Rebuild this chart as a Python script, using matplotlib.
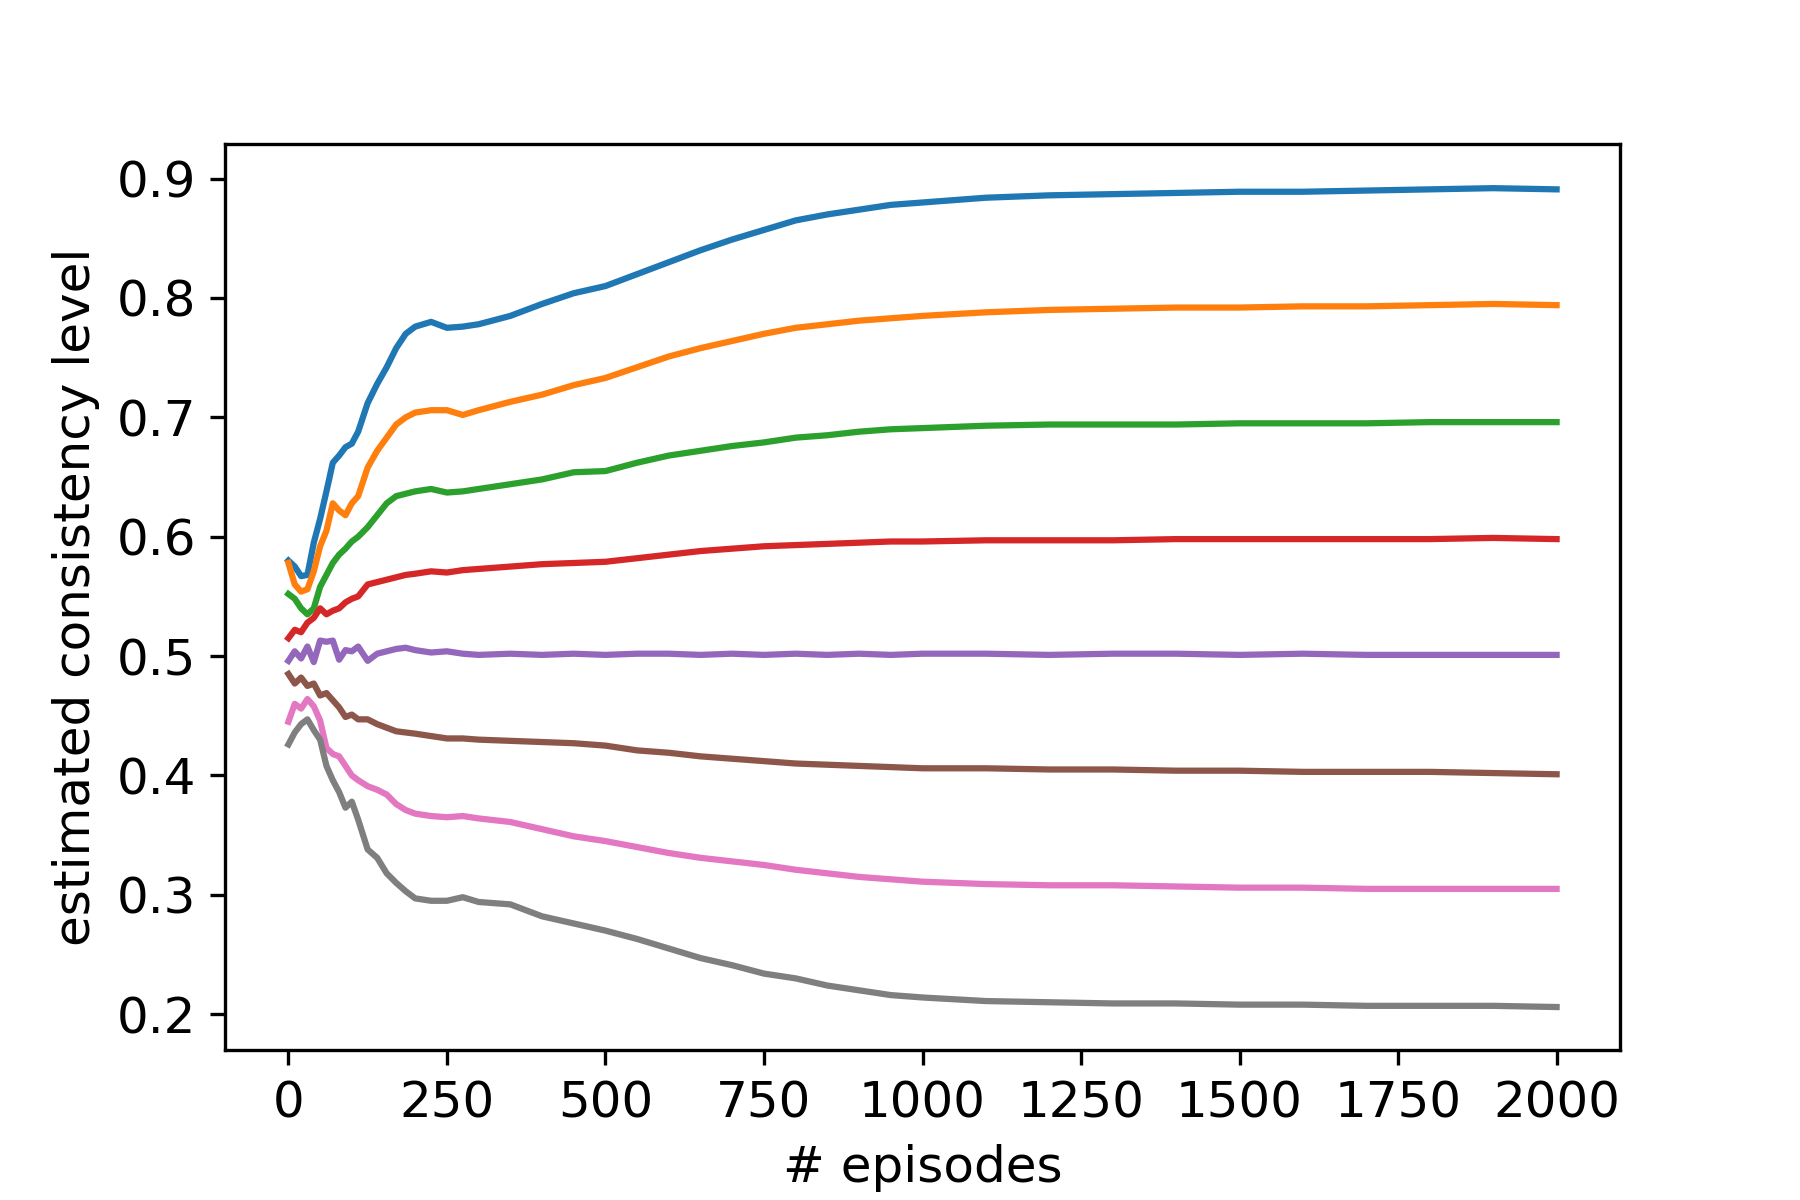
import matplotlib
matplotlib.use("Agg")
import matplotlib.pyplot as plt

plt.rcParams['font.size'] = 12

episodes = [0, 10, 20, 30, 40, 50, 60, 70, 80, 90, 100, 110, 125, 140, 155, 170, 185, 200,
            225, 250, 275, 300, 350, 400, 450, 500, 550, 600, 650, 700, 750, 800, 850, 900,
            950, 1000, 1100, 1200, 1300, 1400, 1500, 1600, 1700, 1800, 1900, 2000]

blue = [0.580, 0.575, 0.567, 0.568, 0.595, 0.615, 0.638, 0.662, 0.668, 0.675, 0.678, 0.688,
        0.712, 0.728, 0.742, 0.758, 0.770, 0.776, 0.780, 0.775, 0.776, 0.778, 0.785, 0.795,
        0.804, 0.810, 0.820, 0.830, 0.840, 0.849, 0.857, 0.865, 0.870, 0.874, 0.878, 0.880,
        0.884, 0.886, 0.887, 0.888, 0.889, 0.889, 0.890, 0.891, 0.892, 0.891]

orange = [0.578, 0.560, 0.554, 0.556, 0.571, 0.592, 0.605, 0.628, 0.622, 0.618, 0.628, 0.634,
          0.658, 0.672, 0.683, 0.694, 0.700, 0.704, 0.706, 0.706, 0.702, 0.706, 0.713, 0.719,
          0.727, 0.733, 0.742, 0.751, 0.758, 0.764, 0.770, 0.775, 0.778, 0.781, 0.783, 0.785,
          0.788, 0.790, 0.791, 0.792, 0.792, 0.793, 0.793, 0.794, 0.795, 0.794]

green = [0.552, 0.548, 0.540, 0.535, 0.540, 0.558, 0.568, 0.578, 0.585, 0.590, 0.596, 0.600,
         0.608, 0.618, 0.628, 0.634, 0.636, 0.638, 0.640, 0.637, 0.638, 0.640, 0.644, 0.648,
         0.654, 0.655, 0.662, 0.668, 0.672, 0.676, 0.679, 0.683, 0.685, 0.688, 0.690, 0.691,
         0.693, 0.694, 0.694, 0.694, 0.695, 0.695, 0.695, 0.696, 0.696, 0.696]

red = [0.515, 0.522, 0.520, 0.528, 0.532, 0.540, 0.535, 0.538, 0.540, 0.545, 0.548, 0.550,
       0.560, 0.562, 0.564, 0.566, 0.568, 0.569, 0.571, 0.570, 0.572, 0.573, 0.575, 0.577,
       0.578, 0.579, 0.582, 0.585, 0.588, 0.590, 0.592, 0.593, 0.594, 0.595, 0.596, 0.596,
       0.597, 0.597, 0.597, 0.598, 0.598, 0.598, 0.598, 0.598, 0.599, 0.598]

purple = [0.496, 0.504, 0.498, 0.508, 0.495, 0.513, 0.512, 0.513, 0.497, 0.505, 0.504, 0.508,
          0.496, 0.502, 0.504, 0.506, 0.507, 0.505, 0.503, 0.504, 0.502, 0.501, 0.502, 0.501,
          0.502, 0.501, 0.502, 0.502, 0.501, 0.502, 0.501, 0.502, 0.501, 0.502, 0.501, 0.502,
          0.502, 0.501, 0.502, 0.502, 0.501, 0.502, 0.501, 0.501, 0.501, 0.501]

brown = [0.485, 0.477, 0.482, 0.475, 0.477, 0.467, 0.469, 0.463, 0.457, 0.449, 0.451, 0.447,
         0.447, 0.443, 0.440, 0.437, 0.436, 0.435, 0.433, 0.431, 0.431, 0.430, 0.429, 0.428,
         0.427, 0.425, 0.421, 0.419, 0.416, 0.414, 0.412, 0.410, 0.409, 0.408, 0.407, 0.406,
         0.406, 0.405, 0.405, 0.404, 0.404, 0.403, 0.403, 0.403, 0.402, 0.401]

pink = [0.445, 0.460, 0.456, 0.464, 0.458, 0.446, 0.423, 0.418, 0.416, 0.408, 0.400, 0.396,
        0.391, 0.388, 0.384, 0.376, 0.371, 0.368, 0.366, 0.365, 0.366, 0.364, 0.361, 0.355,
        0.349, 0.345, 0.340, 0.335, 0.331, 0.328, 0.325, 0.321, 0.318, 0.315, 0.313, 0.311,
        0.309, 0.308, 0.308, 0.307, 0.306, 0.306, 0.305, 0.305, 0.305, 0.305]

gray = [0.426, 0.436, 0.443, 0.447, 0.438, 0.430, 0.408, 0.396, 0.386, 0.373, 0.378, 0.363,
        0.338, 0.331, 0.318, 0.310, 0.303, 0.297, 0.295, 0.295, 0.298, 0.294, 0.292, 0.282,
        0.276, 0.270, 0.263, 0.255, 0.247, 0.241, 0.234, 0.230, 0.224, 0.220, 0.216, 0.214,
        0.211, 0.210, 0.209, 0.209, 0.208, 0.208, 0.207, 0.207, 0.207, 0.206]

series = [blue, orange, green, red, purple, brown, pink, gray]

fig, ax = plt.subplots(figsize=(6, 4), dpi=300)
fig.subplots_adjust(left=0.125, right=0.9, bottom=0.125, top=0.88)
for s in series:
    ax.plot(episodes, s)

ax.set_ylim(0.170, 0.929)
ax.set_xticks([0, 250, 500, 750, 1000, 1250, 1500, 1750, 2000])
ax.set_xlabel("# episodes")
ax.set_ylabel("estimated consistency level")

fig.savefig("out.png", dpi=300)
